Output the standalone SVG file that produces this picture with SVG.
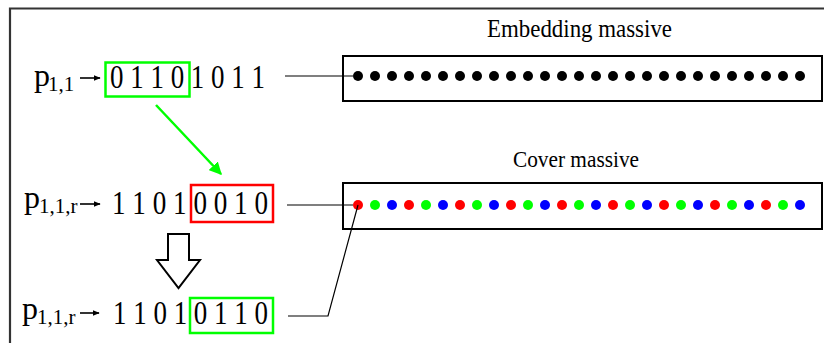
<svg xmlns="http://www.w3.org/2000/svg" width="824" height="343" viewBox="0 0 824 343">
<defs>
<style>
.t{font-family:"Liberation Serif","Times New Roman",serif;fill:#000}
.d{font-size:34px}
.p{font-size:32px}
.s{font-size:21px}
.ln{stroke:#000;stroke-width:1.2;fill:none}
.ar{stroke:#000;stroke-width:1.6;fill:none}
.box{fill:none;stroke:#000;stroke-width:2}
.k{fill:#000}.r{fill:#f00}.g{fill:#0f0}.b{fill:#00f}
</style>
<marker id="ga" viewBox="0 0 10 10" refX="9" refY="5" markerWidth="5" markerHeight="5" orient="auto"><path d="M0,0 L10,5 L0,10 z" fill="#0f0"/></marker>
<marker id="ka" viewBox="0 0 10 10" refX="9" refY="5" markerWidth="4.5" markerHeight="4.5" orient="auto"><path d="M0,1 L10,5 L0,9 z" fill="#000"/></marker>
</defs>
<rect width="824" height="343" fill="#fff"/>
<path d="M10,343 V8.5 H824" fill="none" stroke="#333" stroke-width="2.2"/>

<g id="row1">
<text class="t p" x="34" y="86">p</text><text class="t s" x="48" y="91">1,1</text>
<line class="ar" x1="80" y1="78" x2="100" y2="78" marker-end="url(#ka)"/>
<rect x="105.5" y="62.5" width="84" height="34" fill="none" stroke="#0f0" stroke-width="2.5"/>
<text class="t d" x="110" y="88" textLength="155" lengthAdjust="spacingAndGlyphs">0 1 1 0 1 0 1 1</text>
</g>

<g id="row2">
<text class="t p" x="24" y="208">p</text><text class="t s" x="39" y="213">1,1,r</text>
<line class="ar" x1="80" y1="204" x2="100" y2="204" marker-end="url(#ka)"/>
<rect x="191" y="185" width="82" height="37" fill="none" stroke="#f00" stroke-width="2.5"/>
<text class="t d" x="112" y="214" textLength="156" lengthAdjust="spacingAndGlyphs">1 1 0 1 0 0 1 0</text>
</g>

<g id="row3">
<text class="t p" x="22" y="319">p</text><text class="t s" x="37" y="324">1,1,r</text>
<line class="ar" x1="80" y1="313" x2="99" y2="313" marker-end="url(#ka)"/>
<rect x="190" y="298" width="83" height="35" fill="none" stroke="#0f0" stroke-width="2.5"/>
<text class="t d" x="113" y="324" textLength="155" lengthAdjust="spacingAndGlyphs">1 1 0 1 0 1 1 0</text>
</g>

<g id="down-arrow">
<path d="M168,234 H189 V260 H200 L178.5,288 L157,260 H168 Z" fill="#fff" stroke="#000" stroke-width="2" stroke-linejoin="miter"/>
</g>

<g id="embedding">
<text class="t" x="487" y="37" font-size="25" textLength="185" lengthAdjust="spacingAndGlyphs">Embedding massive</text>
<rect class="box" x="343" y="56" width="479" height="45"/>
<g class="k">
<circle cx="358" cy="76" r="5"/><circle cx="375" cy="76" r="5"/><circle cx="392" cy="76" r="5"/><circle cx="409" cy="76" r="5"/><circle cx="426" cy="76" r="5"/><circle cx="443" cy="76" r="5"/><circle cx="460" cy="76" r="5"/><circle cx="477" cy="76" r="5"/><circle cx="494" cy="76" r="5"/><circle cx="511" cy="76" r="5"/><circle cx="528" cy="76" r="5"/><circle cx="545" cy="76" r="5"/><circle cx="562" cy="76" r="5"/><circle cx="579" cy="76" r="5"/><circle cx="596" cy="76" r="5"/><circle cx="613" cy="76" r="5"/><circle cx="630" cy="76" r="5"/><circle cx="647" cy="76" r="5"/><circle cx="664" cy="76" r="5"/><circle cx="681" cy="76" r="5"/><circle cx="698" cy="76" r="5"/><circle cx="715" cy="76" r="5"/><circle cx="732" cy="76" r="5"/><circle cx="749" cy="76" r="5"/><circle cx="766" cy="76" r="5"/><circle cx="783" cy="76" r="5"/><circle cx="800" cy="76" r="5"/>
</g>
</g>

<g id="cover">
<text class="t" x="513" y="167" font-size="24" textLength="126" lengthAdjust="spacingAndGlyphs">Cover massive</text>
<rect class="box" x="343" y="183" width="479" height="46"/>
<circle class="r" cx="358" cy="205" r="5"/><circle class="g" cx="375" cy="205" r="5"/><circle class="b" cx="392" cy="205" r="5"/>
<circle class="r" cx="409" cy="205" r="5"/><circle class="g" cx="426" cy="205" r="5"/><circle class="b" cx="443" cy="205" r="5"/>
<circle class="r" cx="460" cy="205" r="5"/><circle class="g" cx="477" cy="205" r="5"/><circle class="b" cx="494" cy="205" r="5"/>
<circle class="r" cx="511" cy="205" r="5"/><circle class="g" cx="528" cy="205" r="5"/><circle class="b" cx="545" cy="205" r="5"/>
<circle class="r" cx="562" cy="205" r="5"/><circle class="g" cx="579" cy="205" r="5"/><circle class="b" cx="596" cy="205" r="5"/>
<circle class="r" cx="613" cy="205" r="5"/><circle class="g" cx="630" cy="205" r="5"/><circle class="b" cx="647" cy="205" r="5"/>
<circle class="r" cx="664" cy="205" r="5"/><circle class="g" cx="681" cy="205" r="5"/><circle class="b" cx="698" cy="205" r="5"/>
<circle class="r" cx="715" cy="205" r="5"/><circle class="g" cx="732" cy="205" r="5"/><circle class="b" cx="749" cy="205" r="5"/>
<circle class="r" cx="766" cy="205" r="5"/><circle class="g" cx="783" cy="205" r="5"/><circle class="b" cx="800" cy="205" r="5"/>
</g>

<g id="connectors">
<line class="ln" x1="285" y1="76" x2="353" y2="76"/>
<line class="ln" x1="287" y1="205" x2="353" y2="205"/>
<polyline class="ln" points="288,316 328,316 358,205"/>
<line x1="156" y1="105" x2="221" y2="174" stroke="#0f0" stroke-width="2.5" marker-end="url(#ga)"/>
</g>
</svg>
